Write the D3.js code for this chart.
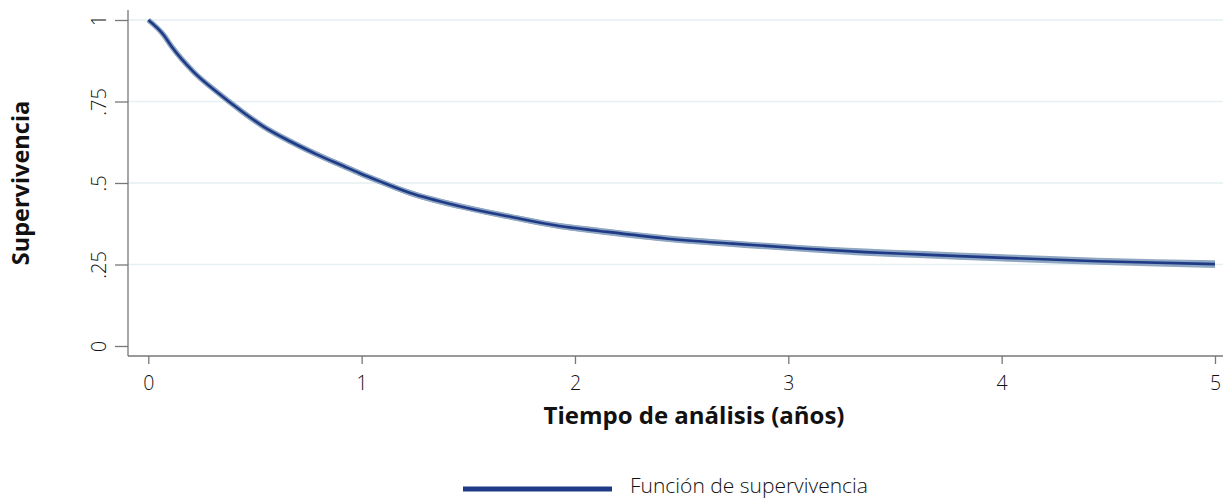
<!DOCTYPE html>
<html>
<head>
<meta charset="utf-8">
<script src="https://cdn.jsdelivr.net/npm/d3@7"></script>
<style>
  body { margin: 0; background: #fff; }
  text { font-family: "Open Sans", "Noto Sans", sans-serif; fill: #111; }
</style>
</head>
<body>
<svg id="chart" width="1223" height="498"></svg>
<script>
// survival estimate
var times = [0, 0.072, 0.11, 0.212, 0.32, 0.43, 0.54, 0.664, 0.789, 0.914, 0.991, 1.085, 1.225, 1.459, 1.693, 1.927, 2.113, 2.425, 2.737, 3.05, 3.36, 3.61, 3.98, 4.45, 5];
var surv  = [1, 0.954, 0.918, 0.841, 0.780, 0.724, 0.673, 0.628, 0.588, 0.552, 0.530, 0.505, 0.470, 0.429, 0.397, 0.368, 0.353, 0.330, 0.314, 0.300, 0.288, 0.281, 0.271, 0.260, 0.251];
// half width of the confidence band
var ciHalf = [0, 0.005, 0.006, 0.008, 0.008, 0.009, 0.009, 0.009, 0.009, 0.009, 0.009, 0.009, 0.009, 0.009, 0.009, 0.009, 0.01, 0.01, 0.01, 0.01, 0.011, 0.011, 0.011, 0.011, 0.012];
var xTicks = [0, 1, 2, 3, 4, 5];
var yTicks = [0, 0.25, 0.5, 0.75, 1];
var yLabels = ["0", ".25", ".5", ".75", "1"];

var data = times.map(function(t, i) {
    return { t: t, s: surv[i], lo: surv[i] - ciHalf[i], hi: surv[i] + ciHalf[i] };
});

var svg = d3.select("#chart");

var x = d3.scaleLinear().domain([0, 5]).range([148.3, 1215]);
var y = d3.scaleLinear().domain([0, 1]).range([346, 20]);

var axisLeftX = 128;
var axisBottomY = 356;

// gridlines
svg.append("g")
    .selectAll("line")
    .data(yTicks.filter(d => d > 0))
    .enter().append("line")
    .attr("x1", axisLeftX)
    .attr("x2", 1223)
    .attr("y1", d => y(d))
    .attr("y2", d => y(d))
    .attr("stroke", "#e6eff1")
    .attr("stroke-width", 1.5);

// confidence band
svg.append("path")
    .datum(data)
    .attr("fill", "#8fa7c2")
    .attr("d", d3.area()
        .x(d => x(d.t))
        .y0(d => y(d.lo))
        .y1(d => y(d.hi))
        .curve(d3.curveMonotoneX));

// band edge so it shows behind the line
svg.append("path")
    .datum(data)
    .attr("fill", "none")
    .attr("stroke", "#8fa7c2")
    .attr("stroke-width", 5.5)
    .attr("d", d3.line().x(d => x(d.t)).y(d => y(d.s)).curve(d3.curveMonotoneX));

svg.append("path")
    .datum(data)
    .attr("fill", "none")
    .attr("stroke", "#1f3a87")
    .attr("stroke-width", 2.6)
    .attr("d", d3.line().x(d => x(d.t)).y(d => y(d.s)).curve(d3.curveMonotoneX));

// y axis
var yAxis = d3.axisLeft(y)
    .tickValues(yTicks)
    .tickSize(13)
    .tickFormat((d, i) => yLabels[i]);

var gy = svg.append("g")
    .attr("transform", "translate(" + axisLeftX + ",0)")
    .call(yAxis);
gy.select(".domain").remove();
gy.append("line")
    .attr("x1", 0).attr("x2", 0)
    .attr("y1", 10).attr("y2", axisBottomY)
    .attr("stroke", "#777").attr("stroke-width", 1.3);
gy.selectAll(".tick line").attr("stroke", "#777").attr("stroke-width", 1.3);
gy.selectAll(".tick text")
    .attr("font-size", 20)
    .attr("font-weight", 300)
    .attr("fill", "#111")
    .attr("text-anchor", "middle")
    .attr("transform", "rotate(-90,-29,0)")
    .attr("x", -29)
    .attr("dy", "0.35em");

// x axis
var xAxis = d3.axisBottom(x)
    .tickValues(xTicks)
    .tickSize(8)
    .tickPadding(12)
    .tickFormat(d3.format("d"));

var gx = svg.append("g")
    .attr("transform", "translate(0," + axisBottomY + ")")
    .call(xAxis);
gx.select(".domain").remove();
gx.append("line")
    .attr("x1", axisLeftX).attr("x2", 1223)
    .attr("y1", 0).attr("y2", 0)
    .attr("stroke", "#777").attr("stroke-width", 1.3);
gx.selectAll(".tick line").attr("stroke", "#777").attr("stroke-width", 1.3);
gx.selectAll(".tick text")
    .attr("font-size", 19.5)
    .attr("font-weight", 300)
    .attr("fill", "#111");

// axis titles
svg.append("text")
    .attr("x", 694)
    .attr("y", 424)
    .attr("text-anchor", "middle")
    .attr("font-size", 24)
    .attr("font-weight", "bold")
    .text("Tiempo de análisis (años)");

svg.append("text")
    .attr("transform", "translate(28.5,183) rotate(-90)")
    .attr("text-anchor", "middle")
    .attr("font-size", 23.5)
    .attr("font-weight", "bold")
    .text("Supervivencia");

// legend
svg.append("line")
    .attr("x1", 463).attr("x2", 612)
    .attr("y1", 489).attr("y2", 489)
    .attr("stroke", "#1f3a87")
    .attr("stroke-width", 5);

svg.append("text")
    .attr("x", 630)
    .attr("y", 492.5)
    .attr("font-size", 21)
    .attr("font-weight", 300)
    .text("Función de supervivencia");
</script>
</body>
</html>
